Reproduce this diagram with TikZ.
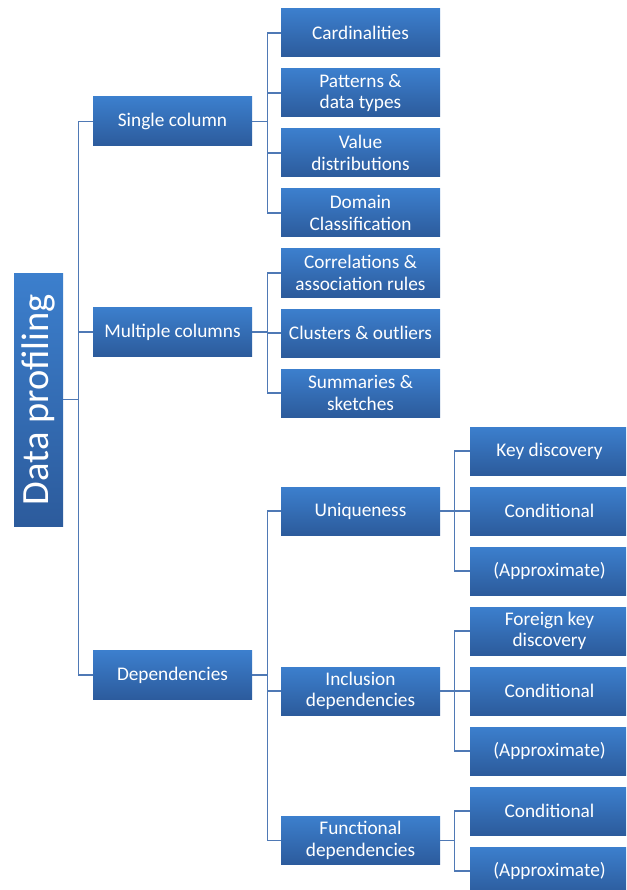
\documentclass[tikz,border=0pt]{standalone}
\usepackage{fontspec}
\setmainfont{Carlito}
\definecolor{boxtop}{RGB}{60,127,205}
\definecolor{boxbot}{RGB}{44,91,156}
\definecolor{linec}{RGB}{79,121,181}
\definecolor{edgec}{RGB}{170,192,222}
\tikzset{
  box/.style={rectangle, draw=none, top color=boxtop, bottom color=boxbot,
    minimum width=159pt, minimum height=48pt, inner sep=0pt, align=center,
    text=white, font=\fontsize{19.3}{21.5}\selectfont,
    append after command={[draw=edgec, line width=1pt]
      ([yshift=-0.6pt]\tikzlastnode.south west) -- ([yshift=-0.6pt]\tikzlastnode.south east)}},
  rootbox/.style={box, minimum width=49pt, minimum height=253pt},
  conn/.style={draw=linec, line width=1.3pt},
}
\begin{document}
\begin{tikzpicture}[x=1pt, y=-1pt]
\useasboundingbox (0,0) rectangle (626,890);
\clip (0,0) rectangle (626,890);
% root
\node[rootbox] (root) at (38.5,399.5) {\rotatebox{90}{\fontsize{38.5}{40}\selectfont Data profiling}};
% level 1
\node[box, minimum height=49pt] (sc) at (172.5,121.5) {Single column};
\node[box, minimum height=49pt] (mc) at (172.5,332) {Multiple columns};
\node[box, minimum height=49pt] (dep) at (172.5,675) {Dependencies};
% level 2 single column
\node[box] (card) at (360.5,33) {Cardinalities};
\node[box] (pat) at (360.5,93) {Patterns \&\\data types};
\node[box] (val) at (360.5,153) {Value\\distributions};
\node[box] (dom) at (360.5,213) {Domain\\Classification};
% level 2 multiple columns
\node[box] (corr) at (360.5,273) {Correlations \&\\association rules};
\node[box] (clus) at (360.5,333) {Clusters \& outliers};
\node[box] (summ) at (360.5,393) {Summaries \&\\sketches};
% level 2 dependencies
\node[box] (uniq) at (360.5,511) {Uniqueness};
\node[box] (incl) at (360.5,691) {Inclusion\\dependencies};
\node[box] (func) at (360.5,840.5) {Functional\\dependencies};
% level 3
\node[box] (key) at (549.5,451) {Key discovery};
\node[box] (ucond) at (549.5,511) {Conditional};
\node[box] (uappr) at (549.5,571) {(Approximate)};
\node[box] (fk) at (549.5,631) {Foreign key\\discovery};
\node[box] (icond) at (549.5,691) {Conditional};
\node[box] (iappr) at (549.5,751) {(Approximate)};
\node[box] (fcond) at (549.5,811) {Conditional};
\node[box] (fappr) at (549.5,871) {(Approximate)};
% connectors
\foreach \c in {sc,mc,dep} \draw[conn] (root.east) -- ++(15,0) |- (\c.west);
\foreach \c in {card,pat,val,dom} \draw[conn] (sc.east) -- ++(15,0) |- (\c.west);
\foreach \c in {corr,clus,summ} \draw[conn] (mc.east) -- ++(15,0) |- (\c.west);
\foreach \c in {uniq,incl,func} \draw[conn] (dep.east) -- ++(15,0) |- (\c.west);
\foreach \c in {key,ucond,uappr} \draw[conn] (uniq.east) -- ++(14,0) |- (\c.west);
\foreach \c in {fk,icond,iappr} \draw[conn] (incl.east) -- ++(14,0) |- (\c.west);
\foreach \c in {fcond,fappr} \draw[conn] (func.east) -- ++(14,0) |- (\c.west);
\end{tikzpicture}
\end{document}
